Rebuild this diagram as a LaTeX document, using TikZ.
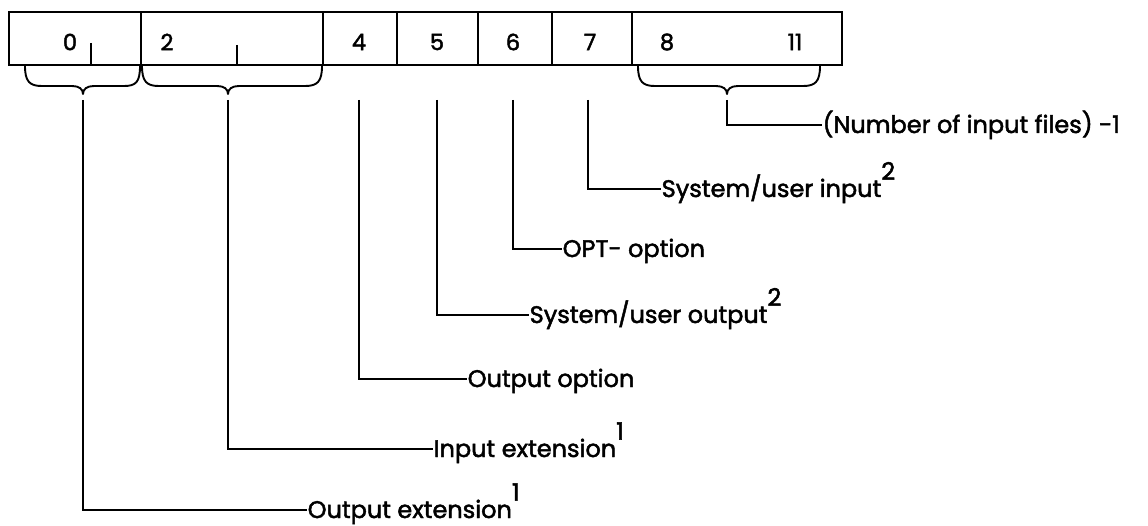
\documentclass[tikz,border=0pt]{standalone}
\usepackage{fontspec}
\setmainfont{Poppins}[FakeBold=2]
\newcommand\fnmark[1]{\raisebox{0.72em}{#1}}
\begin{document}
\begin{tikzpicture}[x=1pt,y=-1pt,
  cell/.style={draw, line width=2.2pt, minimum height=53pt, inner sep=0pt, anchor=north west},
  digit/.style={font=\fontsize{22.5}{26}\selectfont, inner sep=0pt},
  lbl/.style={font=\fontsize{24}{28}\selectfont, anchor=west, inner xsep=0.5pt, inner ysep=0pt, text height=16pt, text depth=0pt},
  leader/.style={line width=1.9pt},
  bracel/.style={line width=1.9pt, line join=round}]
\useasboundingbox (0,0) rectangle (1148,526);
% register cells
\node[cell, minimum width=132pt] (c01) at (8,11) {};
\node[cell, minimum width=182pt] (c23) at (140,11) {};
\node[cell, minimum width=74pt] (c4) at (322,11) {};
\node[cell, minimum width=81pt] (c5) at (396,11) {};
\node[cell, minimum width=74pt] (c6) at (477,11) {};
\node[cell, minimum width=80pt] (c7) at (551,11) {};
\node[cell, minimum width=210pt] (c811) at (631,11) {};
% digits
\node[digit] (d0) at (70,42) {0};
\node[digit] (d2) at (167,42) {2};
\node[digit] (d4) at (359,42) {4};
\node[digit] (d5) at (437,42) {5};
\node[digit] (d6) at (513,42) {6};
\node[digit] (d7) at (590,42) {7};
\node[digit] (d8) at (667,42) {8};
\node[digit] (d11) at (795,42) {11};
% ticks
\draw[leader] (91,43) -- (91,64);
\draw[leader] (237,45) -- (237,64);
% braces
\draw[bracel] (25,66) .. controls (25,82) and (30,86) .. (42,86) -- (72,86) .. controls (79,86) and (83,89) .. (83,94) .. controls (83,89) and (87,86) .. (94,86) -- (124,86) .. controls (136,86) and (140,82) .. (140,66);
\draw[bracel] (142,66) .. controls (142,82) and (147,86) .. (159,86) -- (217,86) .. controls (224,86) and (228,89) .. (228,94) .. controls (228,89) and (232,86) .. (239,86) -- (305,86) .. controls (317,86) and (322,82) .. (322,66);
\draw[bracel] (638,66) .. controls (638,82) and (643,86) .. (655,86) -- (716,86) .. controls (723,86) and (727,89) .. (727,94) .. controls (727,89) and (731,86) .. (738,86) -- (803,86) .. controls (815,86) and (820,82) .. (820,66);
% leader start points
\coordinate (tnf) at (727,100);
\coordinate (t7) at (588,100);
\coordinate (t6) at (513,100);
\coordinate (t5) at (437,100);
\coordinate (t4) at (359,100);
\coordinate (t2) at (228,100);
\coordinate (t0) at (83,100);
% labels
\node[lbl] (lnf) at (822,125) {(Number of input files) -1};
\node[lbl] (l7) at (661,189) {System/user input\fnmark{2}};
\node[lbl] (l6) at (562,249) {OPT- option};
\node[lbl] (l5) at (529,315) {System/user output\fnmark{2}};
\node[lbl] (l4) at (467,379) {Output option};
\node[lbl] (l2) at (433,449) {Input extension\fnmark{1}};
\node[lbl] (l0) at (307,510) {Output extension\fnmark{1}};
% leaders
\draw[leader] (tnf) |- (lnf.west);
\draw[leader] (t7) |- (l7.west);
\draw[leader] (t6) |- (l6.west);
\draw[leader] (t5) |- (l5.west);
\draw[leader] (t4) |- (l4.west);
\draw[leader] (t2) |- (l2.west);
\draw[leader] (t0) |- (l0.west);
\end{tikzpicture}
\end{document}
